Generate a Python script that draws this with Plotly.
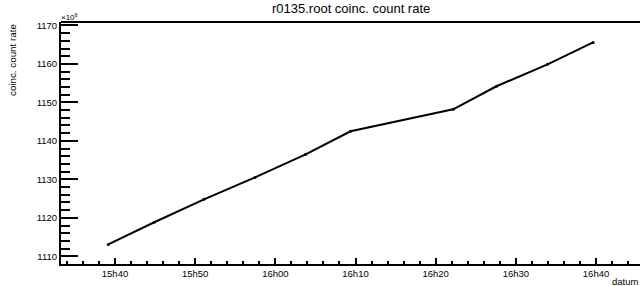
import plotly.graph_objects as go

times = ["2024-01-01 15:39:10", "2024-01-01 15:44:54", "2024-01-01 15:51:06",
         "2024-01-01 15:57:28", "2024-01-01 16:03:47", "2024-01-01 16:09:23",
         "2024-01-01 16:22:11", "2024-01-01 16:27:35", "2024-01-01 16:33:57",
         "2024-01-01 16:39:38"]
rates = [1113.1, 1118.85, 1124.8, 1130.5, 1136.5, 1142.5, 1148.2, 1154.2, 1159.9, 1165.6]

W, H = 640, 286
ML, MR, MT, MB = 61, 0, 22, 22
PW, PH = W - ML - MR, H - MT - MB
FONT = "Liberation Sans, Arial, sans-serif"

fig = go.Figure()
fig.add_trace(go.Scatter(x=times, y=rates, mode="lines+markers",
                         line=dict(color="black", width=2),
                         marker=dict(color="black", size=3),
                         showlegend=False))

fig.update_layout(
    width=W, height=H,
    margin=dict(l=ML, r=MR, t=MT, b=MB),
    paper_bgcolor="white", plot_bgcolor="white",
    font=dict(family=FONT, color="black", size=9),
    xaxis=dict(
        type="date",
        range=["2024-01-01 15:33:16", "2024-01-01 16:45:29"],
        showgrid=False, zeroline=False,
        showline=True, linecolor="black", linewidth=2,
        ticks="inside", ticklen=6, tickwidth=2, tickcolor="black",
        tick0="2024-01-01 15:40:00", dtick=600000,
        tickformat="%Hh%M",
        tickfont=dict(size=9.5, family=FONT),
        minor=dict(ticks="inside", ticklen=3, tickwidth=2, tickcolor="black",
                   dtick=120000, tick0="2024-01-01 15:40:00"),
    ),
    yaxis=dict(
        range=[1108.0, 1170.9],
        showgrid=False, zeroline=False,
        showline=True, linecolor="black", linewidth=2,
        ticks="inside", ticklen=17, tickwidth=2, tickcolor="black",
        tick0=1110, dtick=10,
        tickfont=dict(size=9.5, family=FONT),
        minor=dict(ticks="inside", ticklen=9, tickwidth=2, tickcolor="black", dtick=2),
    ),
)

# top frame line
fig.add_shape(type="line", xref="paper", yref="paper", x0=0, x1=1.01, y0=1, y1=1,
              line=dict(color="black", width=2))

fig.add_annotation(text="r0135.root coinc. count rate", xref="paper", yref="paper",
                   x=(351 - ML) / PW, y=1 + MT / PH, yanchor="top", showarrow=False,
                   font=dict(size=13, family=FONT), yshift=1)
fig.add_annotation(text="×10<sup>6</sup>", xref="paper", yref="paper", x=0, y=1,
                   xanchor="left", yanchor="bottom", showarrow=False,
                   font=dict(size=8, family=FONT), xshift=-2, yshift=-2)
fig.add_annotation(text="coinc. count rate", xref="paper", yref="paper", x=(12 - ML) / PW, y=1,
                   xanchor="center", yanchor="top", textangle=-90, showarrow=False,
                   font=dict(size=9.8, family=FONT))
fig.add_annotation(text="datum", xref="paper", yref="paper", x=1, y=-MB / PH,
                   xanchor="right", yanchor="bottom", showarrow=False,
                   font=dict(size=9.5, family=FONT), xshift=0, yshift=-3)

fig.write_html("out.html", config={"displayModeBar": False},
               post_script="document.body.style.margin='0';document.body.style.padding='0';")
